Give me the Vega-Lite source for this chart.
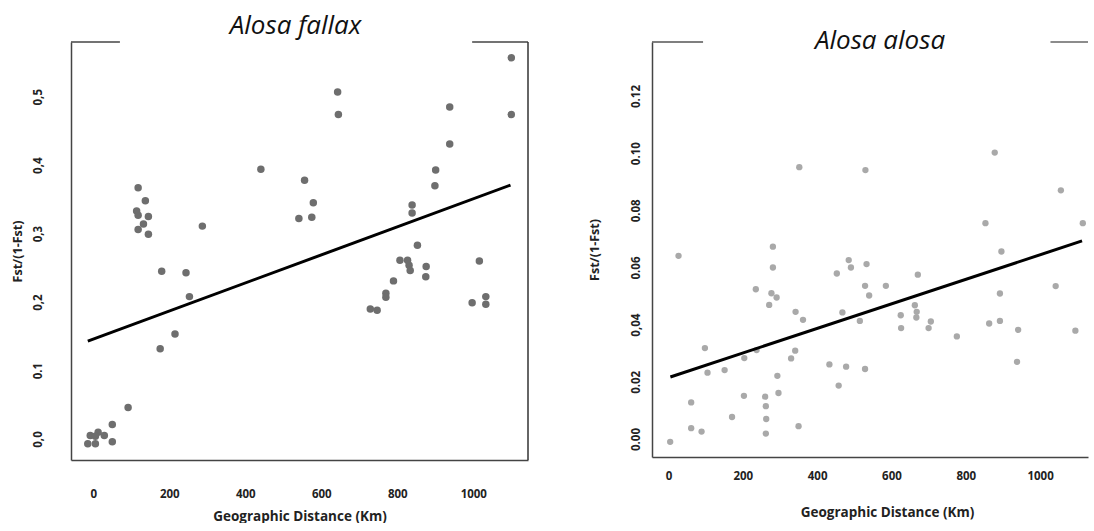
{
  "$schema": "https://vega.github.io/schema/vega-lite/v6.json",
  "padding": {"left": 11, "top": 13, "right": 0, "bottom": 0},
  "background": "white",
  "config": {
    "view": {"stroke": null},
    "font": "Open Sans",
    "axis": {
      "grid": false,
      "ticks": false,
      "domainColor": "#444",
      "domainWidth": 1.5,
      "labelFont": "Open Sans",
      "labelFontWeight": "bold",
      "labelFontSize": 11.5,
      "labelColor": "#222",
      "titleFont": "Open Sans",
      "titleFontWeight": "bold",
      "titleColor": "#222"
    },
    "axisX": {"titleFontSize": 13.5},
    "axisY": {"titleFontSize": 12.5},
    "title": {"font": "Open Sans", "fontStyle": "italic", "fontWeight": "normal", "fontSize": 26, "color": "#111"},
    "concat": {"spacing": 124}
  },
  "bounds": "flush",
  "datasets": {
    "fallax": [
      {"km": -14.5, "fst": -0.007}, {"km": 5.5, "fst": -0.007}, {"km": 50, "fst": -0.004},
      {"km": -8, "fst": 0.005}, {"km": 12.7, "fst": 0.010}, {"km": 29, "fst": 0.005},
      {"km": 5.5, "fst": 0.004}, {"km": 50, "fst": 0.021}, {"km": 91.6, "fst": 0.046},
      {"km": 176, "fst": 0.132}, {"km": 215, "fst": 0.1535}, {"km": 180, "fst": 0.245},
      {"km": 244, "fst": 0.243}, {"km": 253, "fst": 0.208}, {"km": 118, "fst": 0.367},
      {"km": 137, "fst": 0.348}, {"km": 114, "fst": 0.333}, {"km": 118, "fst": 0.327},
      {"km": 145, "fst": 0.325}, {"km": 132, "fst": 0.314}, {"km": 118, "fst": 0.306},
      {"km": 145, "fst": 0.299}, {"km": 287, "fst": 0.311}, {"km": 441, "fst": 0.394},
      {"km": 556, "fst": 0.378}, {"km": 579, "fst": 0.345}, {"km": 541, "fst": 0.322},
      {"km": 575, "fst": 0.324}, {"km": 643, "fst": 0.507}, {"km": 645, "fst": 0.474},
      {"km": 729, "fst": 0.190}, {"km": 747, "fst": 0.188}, {"km": 770, "fst": 0.213},
      {"km": 770, "fst": 0.207}, {"km": 790, "fst": 0.231}, {"km": 807, "fst": 0.261},
      {"km": 827, "fst": 0.261}, {"km": 831, "fst": 0.254}, {"km": 834, "fst": 0.246},
      {"km": 853, "fst": 0.283}, {"km": 839, "fst": 0.342}, {"km": 839, "fst": 0.330},
      {"km": 876, "fst": 0.252}, {"km": 875, "fst": 0.237}, {"km": 899, "fst": 0.370},
      {"km": 901, "fst": 0.393}, {"km": 938, "fst": 0.485}, {"km": 938, "fst": 0.431},
      {"km": 997, "fst": 0.199}, {"km": 1016, "fst": 0.260}, {"km": 1033, "fst": 0.208},
      {"km": 1033, "fst": 0.197}, {"km": 1100, "fst": 0.557}, {"km": 1100, "fst": 0.474}
    ],
    "fallax_fit": [{"km": -14.5, "fit": 0.143}, {"km": 1098, "fit": 0.371}],
    "alosa": [
      {"km": 27, "fst": 0.0641}, {"km": 352, "fst": 0.0951}, {"km": 530, "fst": 0.0941},
      {"km": 878, "fst": 0.1002}, {"km": 1056, "fst": 0.0870}, {"km": 853, "fst": 0.0755},
      {"km": 1115, "fst": 0.0755}, {"km": 896, "fst": 0.0656}, {"km": 281, "fst": 0.0673},
      {"km": 281, "fst": 0.0600}, {"km": 485, "fst": 0.0626}, {"km": 491, "fst": 0.0600},
      {"km": 533, "fst": 0.0612}, {"km": 453, "fst": 0.0579}, {"km": 671, "fst": 0.0575},
      {"km": 235, "fst": 0.0524}, {"km": 277, "fst": 0.0510}, {"km": 291, "fst": 0.0495},
      {"km": 271, "fst": 0.0469}, {"km": 529, "fst": 0.0536}, {"km": 585, "fst": 0.0536},
      {"km": 540, "fst": 0.0502}, {"km": 1042, "fst": 0.0535}, {"km": 892, "fst": 0.0509},
      {"km": 342, "fst": 0.0445}, {"km": 362, "fst": 0.0417}, {"km": 468, "fst": 0.0443},
      {"km": 515, "fst": 0.0413}, {"km": 663, "fst": 0.0468}, {"km": 668, "fst": 0.0445},
      {"km": 667, "fst": 0.0425}, {"km": 625, "fst": 0.0433}, {"km": 626, "fst": 0.0388},
      {"km": 706, "fst": 0.0411}, {"km": 700, "fst": 0.0388}, {"km": 776, "fst": 0.0359},
      {"km": 863, "fst": 0.0404}, {"km": 892, "fst": 0.0413}, {"km": 941, "fst": 0.0382},
      {"km": 1095, "fst": 0.0379}, {"km": 938, "fst": 0.0270}, {"km": 98, "fst": 0.0318},
      {"km": 237, "fst": 0.0311}, {"km": 204, "fst": 0.0283}, {"km": 105, "fst": 0.0232},
      {"km": 151, "fst": 0.0241}, {"km": 341, "fst": 0.0309}, {"km": 330, "fst": 0.0282},
      {"km": 433, "fst": 0.0261}, {"km": 478, "fst": 0.0253}, {"km": 529, "fst": 0.0245},
      {"km": 293, "fst": 0.0221}, {"km": 458, "fst": 0.0187}, {"km": 203, "fst": 0.0151},
      {"km": 260, "fst": 0.0148}, {"km": 296, "fst": 0.0161}, {"km": 61, "fst": 0.0128},
      {"km": 262, "fst": 0.0115}, {"km": 171, "fst": 0.0077}, {"km": 263, "fst": 0.0070},
      {"km": 350, "fst": 0.0045}, {"km": 61, "fst": 0.0038}, {"km": 89, "fst": 0.0026},
      {"km": 262, "fst": 0.0019}, {"km": 4.5, "fst": -0.0010}
    ],
    "alosa_fit": [{"km": 5, "fit": 0.0217}, {"km": 1113, "fit": 0.0693}]
  },
  "hconcat": [
    {
      "width": 457,
      "height": 418,
      "title": {"text": "Alosa fallax", "offset": 2, "dx": -4},
      "layer": [
        {
          "data": {"name": "fallax"},
          "mark": {"type": "circle", "size": 56, "color": "#6e6e6e", "opacity": 1},
          "encoding": {
            "x": {
              "field": "km", "type": "quantitative",
              "scale": {"domain": [-58.7, 1144], "nice": false, "zero": false},
              "axis": {"values": [0, 200, 400, 600, 800, 1000], "format": "d", "labelPadding": 28, "title": "Geographic Distance (Km)", "titlePadding": 10}
            },
            "y": {
              "field": "fst", "type": "quantitative",
              "scale": {"domain": [-0.0307, 0.580], "nice": false, "zero": false},
              "axis": {
                "values": [0, 0.1, 0.2, 0.3, 0.4, 0.5],
                "labelExpr": "datum.value < 0.05 ? '0,0' : datum.value < 0.15 ? '0.1' : datum.value < 0.25 ? '0,2' : datum.value < 0.35 ? '0,3' : datum.value < 0.45 ? '0,4' : '0,5'",
                "labelAngle": 270, "labelAlign": "center", "labelBaseline": "bottom", "labelPadding": 28,
                "title": "Fst/(1-Fst)", "titlePadding": 7.5
              }
            }
          }
        },
        {
          "data": {"name": "fallax_fit"},
          "mark": {"type": "line", "color": "#000", "strokeWidth": 3},
          "encoding": {
            "x": {"field": "km", "type": "quantitative"},
            "y": {"field": "fit", "type": "quantitative"}
          }
        },
        {
          "data": {"values": [{}]},
          "mark": {"type": "rule", "color": "#444", "strokeWidth": 1.5},
          "encoding": {"x": {"datum": -58.7}, "x2": {"datum": 70}, "y": {"datum": 0.580}}
        },
        {
          "data": {"values": [{}]},
          "mark": {"type": "rule", "color": "#444", "strokeWidth": 1.5},
          "encoding": {"x": {"datum": 997}, "x2": {"datum": 1144}, "y": {"datum": 0.580}}
        },
        {
          "data": {"values": [{}]},
          "mark": {"type": "rule", "color": "#333", "strokeWidth": 1.5},
          "encoding": {"x": {"datum": 1144}, "y": {"datum": -0.0307}, "y2": {"datum": 0.580}}
        }
      ]
    },
    {
      "width": 436,
      "height": 415,
      "title": {"text": "Alosa alosa", "offset": -13, "dx": 10},
      "layer": [
        {
          "data": {"name": "alosa"},
          "mark": {"type": "circle", "size": 40, "color": "#a9a9a9", "opacity": 1},
          "encoding": {
            "x": {
              "field": "km", "type": "quantitative",
              "scale": {"domain": [-44.4, 1129], "nice": false, "zero": false},
              "axis": {"values": [0, 200, 400, 600, 800, 1000], "format": "d", "labelPadding": 13, "title": "Geographic Distance (Km)", "titlePadding": 24, "titleX": 235}
            },
            "y": {
              "field": "fst", "type": "quantitative",
              "scale": {"domain": [-0.0063, 0.1389], "nice": false, "zero": false},
              "axis": {
                "values": [0, 0.02, 0.04, 0.06, 0.08, 0.1, 0.12],
                "labelExpr": "abs(datum.value - 0.04) < 0.001 ? '0,04' : format(datum.value, '.2f')",
                "labelAngle": 270, "labelAlign": "center", "labelBaseline": "bottom", "labelPadding": 11,
                "title": "Fst/(1-Fst)", "titlePadding": 29
              }
            }
          }
        },
        {
          "data": {"name": "alosa_fit"},
          "mark": {"type": "line", "color": "#000", "strokeWidth": 3},
          "encoding": {
            "x": {"field": "km", "type": "quantitative"},
            "y": {"field": "fit", "type": "quantitative"}
          }
        },
        {
          "data": {"values": [{}]},
          "mark": {"type": "rule", "color": "#555", "strokeWidth": 1.5},
          "encoding": {"x": {"datum": -44.4}, "x2": {"datum": 93}, "y": {"datum": 0.1389}}
        },
        {
          "data": {"values": [{}]},
          "mark": {"type": "rule", "color": "#666", "strokeWidth": 1.5},
          "encoding": {"x": {"datum": 1028}, "x2": {"datum": 1129}, "y": {"datum": 0.1389}}
        }
      ]
    }
  ]
}
